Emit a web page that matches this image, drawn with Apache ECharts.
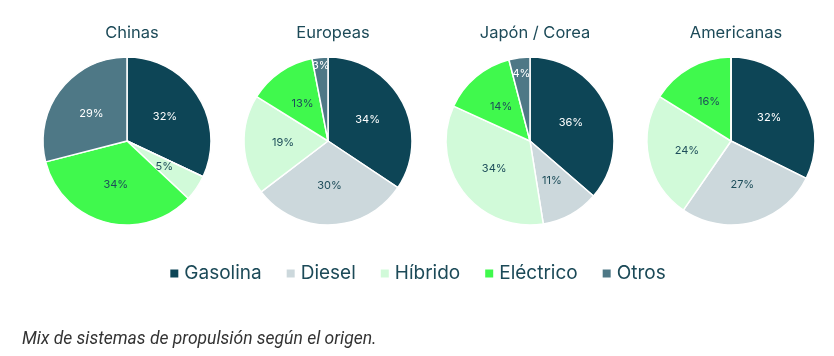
<!DOCTYPE html>
<html><head><meta charset="utf-8">
<script src="https://cdn.jsdelivr.net/npm/echarts@6/dist/echarts.min.js"></script>
<style>html,body{margin:0;padding:0;background:#fff}#c{width:834px;height:356px}</style>
</head><body><div id="c"></div>
<script>
const categories = ['Gasolina', 'Diesel', 'Híbrido', 'Eléctrico', 'Otros'];
const origins = ['Chinas', 'Europeas', 'Japón / Corea', 'Americanas'];
const chinas = [32, 0, 5, 34, 29];
const europeas = [34, 30, 19, 13, 3];
const japonCorea = [36, 11, 34, 14, 4];
const americanas = [32, 27, 24, 16, 0];
const caption = 'Mix de sistemas de propulsión según el origen.';

const seriesValues = [chinas, europeas, japonCorea, americanas];
const colors = ['#0d4556', '#ccd8dc', '#d1fad9', '#40f94d', '#4e7886'];
const labelColors = ['#ffffff', '#1d4d5a', '#1d4d5a', '#1d4d5a', '#ffffff'];
const centersX = [127, 328, 530, 731];
const centerY = 141;
const radius = 84;
// small slices whose label sits nearer the rim: inner radius of the label ring
const smallLabelRing = [null, 0.72, 0.54, null];

const chart = echarts.init(document.getElementById('c'), null, {renderer: 'canvas'});
const titles = origins.map((o, i) => ({
  text: o, left: centersX[i], top: 20, textAlign: 'center',
  textStyle: {fontFamily: 'Inter', fontSize: 16.5, fontWeight: 'normal', color: '#1c4a58'}
}));
titles.push({
  text: caption, left: 17, top: 326,
  textStyle: {fontFamily: 'Roboto', fontStyle: 'italic', fontSize: 17.5, fontWeight: 'normal', color: '#333333'}
});
const isSmall = v => v > 0 && v < 5;
const series = [];
seriesValues.forEach((vals, i) => {
  series.push({
    type: 'pie',
    name: origins[i],
    center: [centersX[i], centerY],
    radius: [0, radius],
    startAngle: 90,
    clockwise: true,
    animation: false,
    itemStyle: {borderColor: '#ffffff', borderWidth: 1.5},
    label: {show: true, position: 'inside', fontFamily: 'Inter', fontSize: 11,
      formatter: p => (p.value > 0 && !(smallLabelRing[i] && isSmall(p.value))) ? p.value + '%' : ''},
    labelLine: {show: false},
    emphasis: {disabled: true},
    data: categories.map((c, k) => ({
      name: c, value: vals[k],
      itemStyle: {color: colors[k]},
      label: {color: labelColors[k]}
    }))
  });
  if (smallLabelRing[i]) {
    series.push({
      type: 'pie',
      name: origins[i] + ' (etiquetas)',
      center: [centersX[i], centerY],
      radius: [radius * smallLabelRing[i], radius],
      startAngle: 90,
      clockwise: true,
      animation: false,
      silent: true,
      legendHoverLink: false,
      itemStyle: {color: 'rgba(0,0,0,0)', borderWidth: 0},
      label: {show: true, position: 'inside', fontFamily: 'Inter', fontSize: 11,
        formatter: p => isSmall(p.value) ? p.value + '%' : ''},
      labelLine: {show: false},
      emphasis: {disabled: true},
      data: categories.map((c, k) => ({
        name: c + ' ', value: vals[k],
        itemStyle: {color: 'rgba(0,0,0,0)'},
        label: {color: labelColors[k]}
      }))
    });
  }
});
chart.setOption({
  backgroundColor: '#ffffff',
  color: colors,
  title: titles,
  legend: {
    data: categories, top: 259, left: 'center',
    icon: 'rect', itemWidth: 10, itemHeight: 10, itemGap: 23,
    textStyle: {fontFamily: 'Inter', fontSize: 19, color: '#1c4a58'}
  },
  series: series
});
</script></body></html>
